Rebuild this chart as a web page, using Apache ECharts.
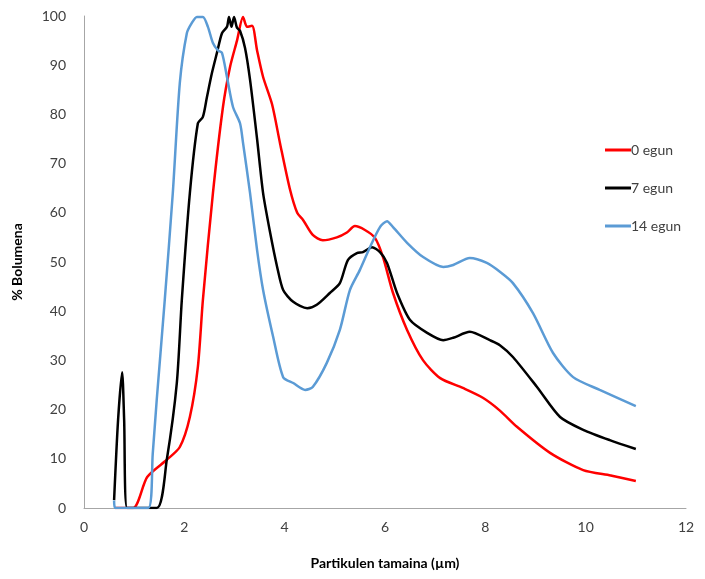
<!DOCTYPE html>
<html><head><meta charset="utf-8">
<script src="https://cdn.jsdelivr.net/npm/echarts@6/dist/echarts.min.js"></script>
<style>html,body{margin:0;padding:0;background:#fff}#c{width:705px;height:579px}</style>
</head><body><div id="c"></div>
<script>
var seriesNames = ['0 egun', '7 egun', '14 egun'];
var xTicks = [0, 2, 4, 6, 8, 10, 12];
var yTicks = [0, 10, 20, 30, 40, 50, 60, 70, 80, 90, 100];

var egun0 = [
  [0.62,0],[0.98,0],[1.26,6.3],[1.65,9.8],[1.91,12.4],[2.11,18.5],[2.27,28.7],[2.37,42.3],
  [2.57,64],[2.77,81.5],[2.91,89.6],[3.05,95],[3.17,99.8],[3.25,97.8],[3.35,98],[3.45,93],
  [3.57,87.6],[3.75,82],[3.91,74],[4.1,65],[4.25,60],[4.37,58.5],[4.56,55.5],[4.76,54.4],
  [5.04,55],[5.24,56],[5.40,57.3],[5.6,56.5],[5.8,54.9],[5.96,51],[6.16,43.7],[6.44,36.2],
  [6.76,30],[7.1,26.4],[7.55,24.4],[7.95,22.4],[8.29,19.8],[8.63,16.5],[9.29,11.2],
  [9.95,7.7],[10.5,6.6],[11.0,5.5]
];
var egun7 = [
  [0.6,1.6],[0.68,18],[0.76,27.6],[0.8,18],[0.86,0],[1.45,0],[1.65,9.8],[1.85,25.4],[1.95,42.3],
  [2.11,64],[2.27,78.2],[2.37,79.5],[2.45,83.5],[2.55,88.4],[2.65,92.5],[2.75,96.5],[2.85,97.8],
  [2.89,99.8],[2.94,97.8],[2.99,99.8],[3.05,97.6],[3.11,97],[3.21,93.5],[3.31,87],[3.45,75],
  [3.57,64],[3.71,56],[3.85,49],[3.97,44.3],[4.17,41.9],[4.45,40.6],[4.64,41.3],[4.9,43.7],
  [5.1,45.7],[5.26,50.4],[5.44,51.8],[5.56,52],[5.74,53],[5.9,52],[6.04,49.8],[6.24,43.7],
  [6.5,38.2],[6.84,35.6],[7.16,34.1],[7.36,34.6],[7.69,35.8],[8.09,34.1],[8.29,33.1],
  [8.55,30.7],[9.03,24.6],[9.49,18.5],[9.95,15.9],[10.48,13.8],[11.0,12]
];
var egun14 = [
  [0.6,1.5],[0.62,0],[1.28,0],[1.37,11],[1.45,22],[1.61,42.3],[1.77,64],[1.91,86.4],[2.05,96.5],
  [2.15,98.6],[2.25,99.8],[2.37,99.8],[2.47,97.8],[2.57,94.5],[2.67,93],[2.75,92.5],
  [2.85,87.6],[2.97,81.5],[3.11,78.2],[3.17,74.2],[3.31,64],[3.45,52.4],[3.57,44.3],
  [3.77,34.8],[3.97,26.6],[4.17,25.4],[4.41,24],[4.56,24.6],[4.84,29.5],[5.1,36.2],
  [5.3,44.3],[5.5,48.4],[5.7,53],[5.9,57.1],[6.04,58.3],[6.16,57.1],[6.44,53.9],[6.76,51],
  [7.16,49],[7.36,49.4],[7.69,50.8],[8.03,49.8],[8.29,48],[8.55,45.7],[8.95,39.6],
  [9.35,31.5],[9.75,26.6],[10.28,24],[11.0,20.7]
];

var colors = ['#ff0000', '#000000', '#5b9bd5'];
var datasets = [egun0, egun7, egun14];

var chart = echarts.init(document.getElementById('c'), null, {renderer: 'canvas'});
var font = 'Lato, "Open Sans", sans-serif';
chart.setOption({
  animation: false,
  backgroundColor: '#fff',
  grid: {left: 84, right: 19, top: 16, bottom: 71, containLabel: false},
  legend: {
    orient: 'vertical', left: 600, top: 138, itemGap: 24,
    itemWidth: 26, itemHeight: 3, icon: 'rect',
    textStyle: {fontFamily: font, fontSize: 14, color: '#404040', padding: [0,0,0,-5]},
    data: seriesNames
  },
  xAxis: {
    type: 'value', min: xTicks[0], max: xTicks[xTicks.length-1], interval: 2,
    name: 'Partikulen tamaina (µm)', nameLocation: 'middle', nameGap: 48,
    nameTextStyle: {fontFamily: font, fontSize: 14, fontWeight: 'bold', color: '#000'},
    axisLine: {lineStyle: {color: '#a6a6a6', width: 1}},
    axisTick: {show: false}, splitLine: {show: false},
    axisLabel: {fontFamily: font, fontSize: 14, color: '#404040', margin: 12}
  },
  yAxis: {
    type: 'value', min: yTicks[0], max: yTicks[yTicks.length-1], interval: 10,
    name: '% Bolumena', nameLocation: 'middle', nameGap: 60, nameRotate: 90,
    nameTextStyle: {fontFamily: font, fontSize: 14, fontWeight: 'bold', color: '#000'},
    axisLine: {show: true, lineStyle: {color: '#a6a6a6', width: 1}},
    axisTick: {show: false}, splitLine: {show: false},
    axisLabel: {fontFamily: font, fontSize: 14, color: '#404040', margin: 18}
  },
  series: datasets.map(function (d, i) {
    return {
      name: seriesNames[i], type: 'line', data: d, showSymbol: false,
      smooth: 0.25,
      lineStyle: {color: colors[i], width: 2.5}, itemStyle: {color: colors[i]}
    };
  })
});
</script></body></html>
